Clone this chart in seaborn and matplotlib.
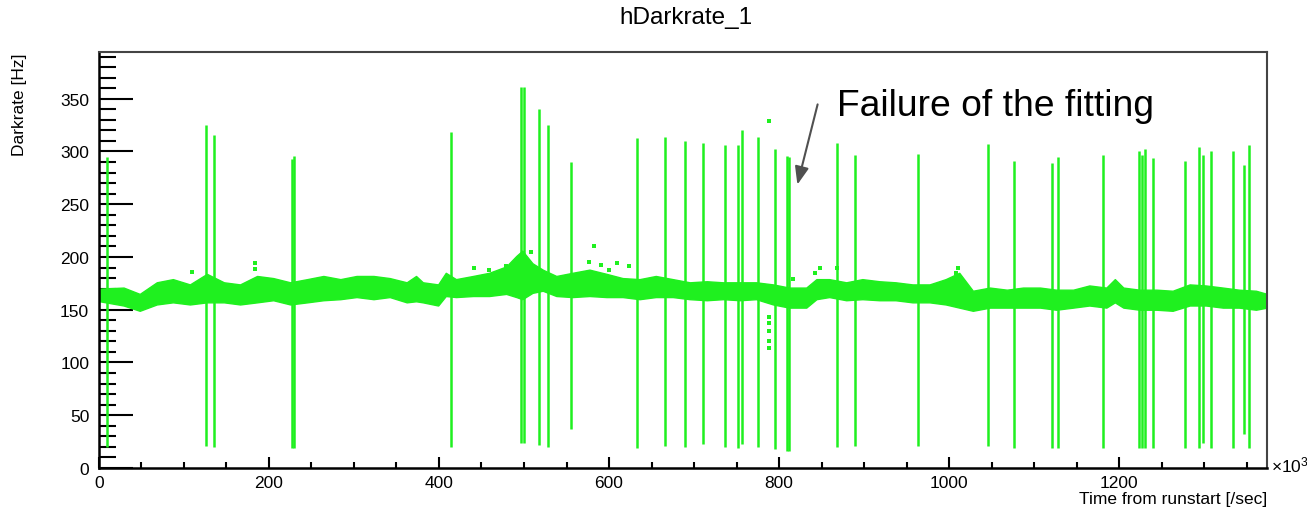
import numpy as np
import pandas as pd
import matplotlib
matplotlib.use("Agg")
import matplotlib.pyplot as plt
from matplotlib.ticker import MultipleLocator
import seaborn as sns

# Time axis in units of 10^3 s, dark rate in Hz
band_t = [1, 29, 48, 68, 87, 107, 127, 147, 166, 186, 205, 225, 245, 264, 284,
          303, 323, 342, 362, 373, 381, 399, 408, 420, 440, 459, 479, 491, 498,
          510, 522, 538, 557, 577, 597, 616, 636, 655, 675, 695, 715, 734, 754,
          773, 793, 812, 832, 844, 859, 879, 898, 918, 937, 957, 977, 996, 1012,
          1028, 1048, 1068, 1087, 1107, 1126, 1146, 1165, 1185, 1195, 1205, 1224,
          1244, 1263, 1283, 1302, 1322, 1341, 1361, 1374]
band_hi = [170, 171, 165, 176, 179, 174, 184, 176, 174, 182, 180, 176, 179, 182,
           179, 182, 182, 180, 176, 182, 176, 174, 185, 179, 182, 185, 191, 201,
           206, 194, 188, 182, 185, 188, 184, 180, 179, 182, 179, 176, 177, 176,
           176, 176, 174, 171, 171, 179, 179, 176, 179, 177, 176, 174, 174, 179,
           185, 168, 171, 169, 171, 171, 169, 169, 173, 171, 179, 171, 169, 169,
           168, 174, 173, 171, 169, 168, 165]
band_lo = [158, 154, 149, 155, 157, 155, 157, 157, 155, 157, 159, 155, 157, 159,
           160, 162, 160, 162, 157, 158, 157, 154, 163, 162, 163, 163, 165, 162,
           160, 166, 168, 163, 162, 163, 162, 162, 160, 162, 162, 160, 159, 160,
           159, 160, 155, 152, 152, 160, 162, 159, 160, 159, 159, 157, 157, 155,
           152, 149, 152, 152, 152, 152, 150, 152, 154, 152, 157, 152, 150, 150,
           149, 154, 154, 152, 152, 150, 152]

# Failed fits: huge error bars
fail_t = [9, 125.5, 135.7, 226.7, 229.8, 414, 496.1, 500.4, 517.6, 528.2, 555.7,
          633.3, 666.3, 689, 710.2, 736.5, 752.2, 756.9, 775.7, 795.3, 809.8,
          812.2, 867.9, 889.8, 963.5, 1046, 1076.5, 1121.6, 1127.9, 1180.8,
          1223.5, 1226.7, 1230.6, 1240.4, 1278, 1294.5, 1298.4, 1307.8, 1333.7,
          1347, 1353.3]
fail_hi = [295, 325, 316, 293, 296, 318, 361, 361, 340, 325, 290, 313, 314, 310,
           308, 306, 306, 320, 314, 302, 296, 295, 308, 297, 298, 307, 291, 289,
           295, 297, 300, 297, 302, 294, 291, 304, 297, 300, 300, 287, 306]
fail_lo = [20, 21, 20, 19, 19, 20, 24, 24, 22, 20, 37, 19, 21, 20, 23, 20, 19,
           23, 20, 18, 16, 16, 20, 21, 21, 21, 19, 19, 19, 19, 19, 19, 19, 19,
           19, 19, 24, 19, 19, 32, 19]

# Isolated points away from the main band
out_t = [110, 184, 184, 441, 459, 479, 508, 576, 582, 590, 600, 609, 624, 788,
         788, 788, 788, 788, 788, 816, 842, 848, 868, 1008, 1011]
out_v = [186, 194, 189, 190, 188, 191, 205, 195, 210, 192, 188, 194, 191, 329,
         143, 137, 130, 120, 114, 179, 185, 190, 190, 185, 190]

title = "hDarkrate_1"
xlabel = "Time from runstart [/sec]"
ylabel = "Darkrate [Hz]"
note = "Failure of the fitting"

green = "#1ff01f"

sns.set_theme(style="ticks")
plt.rcParams["font.family"] = ["Liberation Sans", "DejaVu Sans"]
plt.rcParams["text.color"] = "black"
plt.rcParams["mathtext.fontset"] = "custom"
plt.rcParams["mathtext.rm"] = "Liberation Sans"
plt.rcParams["mathtext.it"] = "Liberation Sans:italic"

fig = plt.figure(figsize=(13.07, 5.10), dpi=100)
ax = fig.add_axes([0.0757, 0.0804, 0.8937, 0.8151])

band = pd.DataFrame({"t": band_t, "lo": band_lo, "hi": band_hi})
ax.fill_between(band["t"], band["lo"], band["hi"], color=green, lw=1.0,
                edgecolor=green, zorder=2)

ax.vlines(fail_t, fail_lo, fail_hi, color=green, lw=1.8, zorder=3)

outliers = pd.DataFrame({"t": out_t, "v": out_v})
sns.scatterplot(data=outliers, x="t", y="v", ax=ax, color=green, s=12,
                marker="s", edgecolor=green, linewidth=0, zorder=3)

ax.set_xlim(0, 1374)
ax.set_ylim(0, 394)

ax.xaxis.set_major_locator(MultipleLocator(200))
ax.xaxis.set_minor_locator(MultipleLocator(50))
ax.yaxis.set_major_locator(MultipleLocator(50))
ax.yaxis.set_minor_locator(MultipleLocator(10))
ax.tick_params(axis="both", which="both", direction="in", colors="black",
               labelcolor="black", labelsize=12.5, width=1.5,
               bottom=True, left=True, top=False, right=False)
ax.tick_params(axis="y", which="major", length=24.5, pad=7)
ax.tick_params(axis="y", which="minor", length=12.2)
ax.tick_params(axis="x", which="major", length=8, pad=5)
ax.tick_params(axis="x", which="minor", length=4)

for side in ["top", "right"]:
    ax.spines[side].set_visible(True)
    ax.spines[side].set_color("#444444")
    ax.spines[side].set_linewidth(1.5)
for side in ["left", "bottom"]:
    ax.spines[side].set_color("black")
    ax.spines[side].set_linewidth(1.8)

ax.set_xlabel("")
ax.set_ylabel("")
fig.text(0.5249, 0.965, title, ha="center", va="center", fontsize=17.5,
         color="black")
fig.text(0.9694, 0.020, xlabel, ha="right", va="center", fontsize=12.5,
         color="black")
fig.text(0.0153, 0.8955, ylabel, ha="center", va="top", rotation=90,
         fontsize=12.5, color="black")
fig.text(0.9725, 0.088, r"$\times10^{3}$", ha="left", va="center",
         fontsize=12.5, color="black")

# Arrow pointing at the failed-fit bars, placed in figure coordinates
arrow_tip = (796.7 / 1307, 1 - 188.3 / 510)
arrow_tail = (818.3 / 1307, 1 - 102.7 / 510)
ax.annotate("", xy=arrow_tip, xycoords="figure fraction",
            xytext=arrow_tail, textcoords="figure fraction",
            arrowprops=dict(arrowstyle="-|>,head_length=0.9,head_width=0.35",
                            color="#505050", lw=1.5))
fig.text(837 / 1307, 1 - 116 / 510, note, ha="left", va="baseline",
         fontsize=26.8, color="black")

fig.savefig("out.png", dpi=100)
